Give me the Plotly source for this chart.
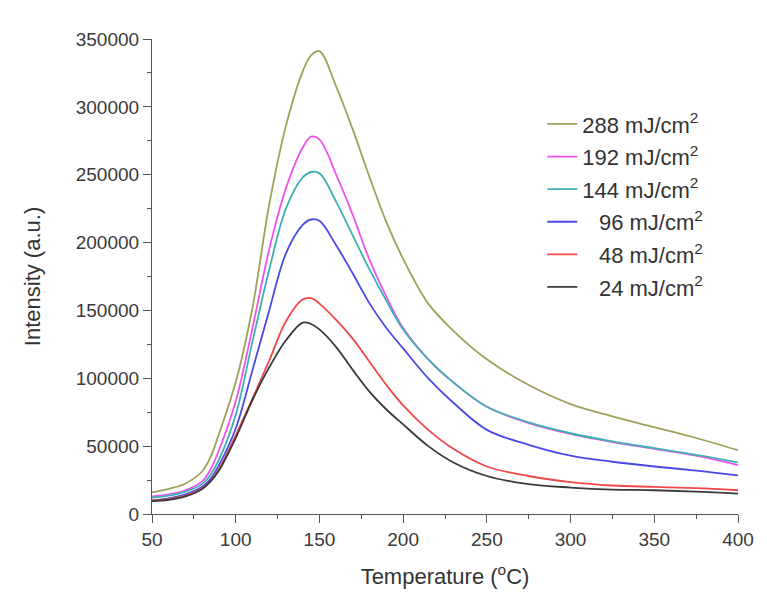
import plotly.graph_objects as go

temperature = [50, 60, 70, 80, 85, 90, 100, 110, 120, 130, 140, 145, 150, 160, 170, 180,
               190, 200, 215, 230, 250, 275, 300, 325, 350, 375, 400]

i_288 = [16000, 18500, 22500, 31500, 42000, 59000, 97000, 152000, 228000, 286000, 326000,
         338000, 341000, 315000, 283000, 248000, 215000, 188000, 155000, 135000, 114000,
         95000, 81000, 72000, 64000, 56000, 47000]
i_192 = [13000, 14500, 17500, 24000, 33000, 47000, 83000, 137000, 195000, 240000, 270000,
         278000, 276000, 250000, 220000, 187000, 160000, 137000, 114000, 97000, 79000,
         67000, 59000, 53000, 48000, 43000, 36000]
i_144 = [12000, 13500, 16500, 22000, 29000, 40000, 73000, 127000, 180000, 225000, 248000,
         252000, 251000, 230000, 205000, 180000, 157000, 136000, 114000, 97000, 79000,
         67500, 59500, 53500, 48500, 43500, 38000]
i_96 = [10000, 11500, 14500, 20000, 26000, 36000, 63000, 106000, 150000, 192000, 213000,
        217000, 216000, 198000, 177000, 155000, 137000, 122000, 100000, 82000, 62000,
        51000, 43000, 38500, 35000, 32000, 28500]
i_48 = [10000, 11000, 13500, 19000, 24500, 33000, 58000, 85000, 113000, 142000, 158000,
        159000, 155000, 143000, 129000, 112000, 95000, 80000, 62000, 48000, 35000,
        28000, 23500, 21000, 20000, 19000, 17500]
i_24 = [9500, 10500, 13000, 18500, 24000, 32000, 56000, 84000, 108000, 128000, 141000,
        140000, 136000, 123000, 106000, 90000, 77000, 66000, 50000, 38000, 28000,
        22000, 19500, 18000, 17500, 16500, 15000]

series_names = ["288 mJ/cm<sup>2</sup>", "192 mJ/cm<sup>2</sup>", "144 mJ/cm<sup>2</sup>",
                "\u2007\u200996 mJ/cm<sup>2</sup>", "\u2007\u200948 mJ/cm<sup>2</sup>",
                "\u2007\u200924 mJ/cm<sup>2</sup>"]
series_values = [i_288, i_192, i_144, i_96, i_48, i_24]
series_colors = ["#a0a05a", "#f050f0", "#3fb0b0", "#4a4ae6", "#f04848", "#3a3a3a"]

fig = go.Figure()
for name, vals, col in zip(series_names, series_values, series_colors):
    fig.add_trace(go.Scatter(
        x=temperature, y=vals, mode="lines", name=name, legendgroup=name,
        line=dict(color=col, width=1.8, shape="spline", smoothing=1.0),
    ))

axis_font = dict(family="Liberation Sans, Arial, sans-serif", size=19, color="#3a3a3a")
fig.update_layout(
    width=767, height=597,
    margin=dict(l=152, r=29, t=39, b=83),
    paper_bgcolor="white", plot_bgcolor="white",
    font=dict(family="Liberation Sans, Arial, sans-serif", color="#333333"),
    showlegend=True,
    legend=dict(
        x=0.666, y=0.865, xanchor="left", yanchor="top",
        traceorder="grouped", tracegroupgap=1,
        font=dict(size=22, color="#333333"),
        bgcolor="rgba(0,0,0,0)",
    ),
    xaxis=dict(
        range=[50, 400], tickvals=[50, 100, 150, 200, 250, 300, 350, 400],
        showline=True, linecolor="#555555", linewidth=1.2,
        ticks="outside", ticklen=8, tickcolor="#555555",
        minor=dict(ticks="outside", ticklen=4, dtick=25, tickcolor="#555555"),
        showgrid=False, zeroline=False, tickfont=axis_font,
        title=dict(text="Temperature (<sup>o</sup>C)", font=dict(size=22, color="#333333"), standoff=19),
    ),
    yaxis=dict(
        range=[0, 350000], tickvals=[0, 50000, 100000, 150000, 200000, 250000, 300000, 350000],
        ticktext=["0", "50000", "100000", "150000", "200000", "250000", "300000", "350000"],
        showline=True, linecolor="#555555", linewidth=1.2,
        ticks="outside", ticklen=8, tickcolor="#555555",
        minor=dict(ticks="outside", ticklen=4, dtick=25000, tickcolor="#555555"),
        showgrid=False, zeroline=False, tickfont=axis_font,
        title=dict(text="Intensity (a.u.)", font=dict(size=22, color="#333333"), standoff=28),
    ),
)

fig.write_html("out.html")
